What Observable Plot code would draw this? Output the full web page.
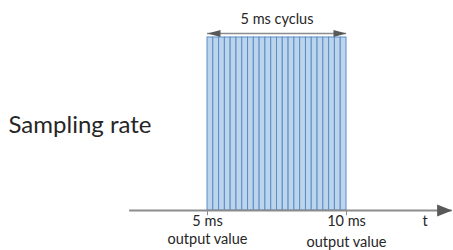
<!DOCTYPE html>
<html><head><meta charset="utf-8">
<script src="https://cdn.jsdelivr.net/npm/d3@7"></script>
<script src="https://cdn.jsdelivr.net/npm/@observablehq/plot@0.6"></script>
<style>body{margin:0;background:#fff}</style>
</head><body><div id="chart"></div>
<script>
const title = "Sampling rate";
const cycleLabel = "5 ms cyclus";
const cycleStart = 5;
const cycleEnd = 10;
const sampleEdges = [5.000, 5.208, 5.417, 5.625, 5.833, 6.042, 6.250, 6.458, 6.667, 6.875,
  7.083, 7.292, 7.500, 7.708, 7.917, 8.125, 8.333, 8.542, 8.750, 8.958,
  9.167, 9.375, 9.583, 9.792, 10.000];
const tickValues = [5, 10];
const tickLabels = ["5 ms", "10 ms"];
const tickSubLabels = ["output value", "output value"];
const axisName = "t";
const axisExtent = [2.2, 13.8];

const samples = sampleEdges.slice(0, -1).map((x1, i) => ({x1, x2: sampleEdges[i + 1]}));

function arrowHead(dir, len, half) {
  return {draw(ctx) {
    ctx.moveTo(0, 0);
    ctx.lineTo(-dir * len, -half);
    ctx.lineTo(-dir * len, half);
    ctx.closePath();
  }};
}

const textColor = "#262626";
const fs = 14.5;
const chart = Plot.plot({
  width: 453, height: 250,
  marginTop: 37, marginBottom: 40, marginLeft: 207, marginRight: 107,
  x: {domain: [cycleStart, cycleEnd], axis: null},
  y: {domain: [0, 1], axis: null},
  style: {fontFamily: "Lato, 'Open Sans', sans-serif", color: textColor, background: "white", overflow: "visible"},
  marks: [
    Plot.rect(samples, {x1: "x1", x2: "x2", y1: 0, y2: 1, fill: "#bcd4ec", stroke: "#5b8ec6", strokeWidth: 1}),
    Plot.ruleY([0], {x1: axisExtent[0], x2: axisExtent[1], stroke: "#8c8c8c", strokeWidth: 2}),
    Plot.dot([axisExtent[1]], {x: d => d, y: 0, symbol: arrowHead(1, 15, 6), r: 5, fill: "#595959", stroke: null}),
    Plot.ruleX(tickValues, {x: d => d, y1: 0, y2: -0.03, stroke: "#8c8c8c", strokeWidth: 1}),
    Plot.text(tickValues, {x: d => d, y: 0, text: (d, i) => tickLabels[i], dy: 11, fontSize: fs, fill: textColor}),
    Plot.text([tickValues[0]], {x: d => d, y: 0, text: () => tickSubLabels[0], dy: 29, fontSize: fs, fill: textColor}),
    Plot.text([tickValues[1]], {x: d => d, y: 0, text: () => tickSubLabels[1], dy: 32, fontSize: fs, fill: textColor}),
    Plot.text([axisName], {x: axisExtent[1], y: 0, text: d => d, dx: -27, dy: 11, fontSize: fs, fill: textColor}),
    Plot.ruleY([1], {x1: cycleStart, x2: cycleEnd, dy: -4, stroke: "#8c8c8c", strokeWidth: 1.5}),
    Plot.dot([cycleStart], {x: d => d, y: 1, dy: -4, symbol: arrowHead(-1, 13, 3.5), r: 5, fill: "#595959", stroke: null}),
    Plot.dot([cycleEnd], {x: d => d, y: 1, dy: -4, symbol: arrowHead(1, 13, 3.5), r: 5, fill: "#595959", stroke: null}),
    Plot.text([cycleLabel], {x: (cycleStart + cycleEnd) / 2, y: 1, text: d => d, dy: -18, fontSize: fs, fill: textColor}),
    Plot.text([title], {x: cycleStart, y: 0.5, text: d => d, dx: -199, dy: 1.5, textAnchor: "start", fontSize: 24, fill: textColor})
  ]
});
document.getElementById("chart").append(chart);
</script>
</body></html>
